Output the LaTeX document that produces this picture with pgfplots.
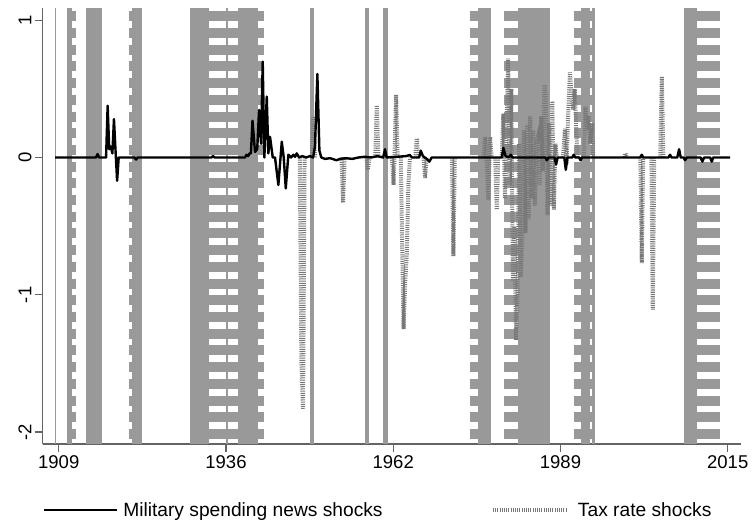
\documentclass[border=0pt]{standalone}
\usepackage{pgfplots}
\pgfplotsset{compat=1.18}
\usepackage{fontspec}
\setmainfont{Liberation Sans}

\definecolor{bandgray}{RGB}{153,153,153}
\definecolor{axisgray}{RGB}{100,100,100}
\definecolor{taxgray}{RGB}{120,120,120}

% solid shaded period: start, end (years)
\newcommand{\sband}[2]{\addplot[fill=bandgray, draw=none, forget plot]
  coordinates {(#1,-2.087) (#1,1.089) (#2,1.089) (#2,-2.087)};}
% striped shaded period: centre, width (years); 6.3115pt per year
\newcommand{\dband}[2]{\addplot[draw=bandgray, line width=#2*6.3115pt,
  dash pattern=on 10pt off 6.7pt, dash phase=13.3pt, forget plot]
  coordinates {(#1,1.089) (#1,-2.087)};}

\begin{document}
\begin{tikzpicture}
\begin{axis}[
  name=ax,
  width=698.3pt, height=436pt, scale only axis,
  xmin=1906.46, xmax=2017.1,
  ymin=-2.087, ymax=1.089,
  axis lines*=left,
  axis line style={-, draw=axisgray, line width=1.3pt},
  xtick={1909,1935.5,1962,1988.5,2015},
  xticklabels={1909,1936,1962,1989,2015},
  ytick={-2,-1,0,1},
  yticklabels={-2,-1,0,1},
  tick align=outside,
  major tick length=7.7pt,
  tick style={draw=axisgray, line width=1.3pt},
  ticklabel style={font=\fontsize{18.5}{22}\selectfont},
  yticklabel style={rotate=90, anchor=south},
  unbounded coords=jump,
  legend columns=2,
  legend cell align=left,
  legend image code/.code={\draw[#1] (0pt,0pt) -- (73pt,0pt);},
  legend style={draw=none, fill=none, inner sep=0pt,
    at={(0,-0.152)}, anchor=west,
    nodes={inner sep=0pt},
    font=\fontsize{19.2}{22}\selectfont,
    /tikz/every odd column/.append style={column sep=5pt},
    /tikz/every even column/.append style={column sep=0pt}},
]

% striped periods
\dband{1911.025}{1.33}
\dband{1921.17}{1.96}
\dband{1935.11}{4.50}
\dband{1941.055}{1.05}
\dband{1974.89}{1.42}
\dband{1980.755}{2.29}
\dband{1992.335}{3.29}
\dband{2011.89}{3.78}

% solid periods
\sband{1908.35}{1908.55}
\sband{1910.36}{1911.11}
\sband{1913.28}{1915.91}
\sband{1920.61}{1922.15}
\sband{1929.80}{1932.86}
\sband{1935.51}{1935.87}
\sband{1937.36}{1940.53}
\sband{1948.82}{1949.45}
\sband{1957.53}{1958.22}
\sband{1960.34}{1961.23}
\sband{1975.49}{1977.50}
\sband{1981.82}{1986.87}
\sband{1991.80}{1993.23}
\sband{1993.45}{1993.98}
\sband{2008.13}{2010.09}

\addlegendimage{black, line width=2.4pt}
\addlegendentry{\makebox[367.7pt][l]{Military spending news shocks}}
\addlegendimage{draw=taxgray, line width=4pt, dash pattern=on 1pt off 1.2pt}
\addlegendentry{\hspace{5pt}Tax rate shocks}

% tax rate shocks
\addplot[draw=taxgray, line width=4pt, dash pattern=on 1pt off 1.2pt, forget plot] coordinates {
(1947.2,0) (1947.45,-1.5) (1947.71,-1.83) (1947.95,0) (1948,nan)
(1949.1,0) (1949.34,0.3) (1949.6,0) (1949.7,nan)
(1953.8,0) (1954.05,-0.33) (1954.3,0) (1954.4,nan)
(1957.75,0) (1958.0,-0.09) (1958.25,0) (1958.3,nan)
(1959.15,0) (1959.39,0.38) (1959.65,0) (1959.7,nan)
(1961.8,0) (1962.05,-0.2) (1962.2,0) (1962.45,0.455) (1962.7,0) (1962.8,nan)
(1963.2,0) (1963.4,-0.6) (1963.64,-1.25) (1963.9,-0.9) (1964.15,-0.7) (1964.4,-0.2) (1964.65,0) (1964.7,nan)
(1965.5,0) (1965.73,0.14) (1965.95,0) (1966,nan)
(1966.8,0) (1967.04,-0.15) (1967.3,0) (1967.4,nan)
(1971.3,0) (1971.53,-0.72) (1971.75,0) (1971.8,nan)
(1976.3,0) (1976.55,0.15) (1976.8,-0.05) (1977.07,-0.31) (1977.34,0.15) (1977.6,0) (1977.7,nan)
(1978.15,0) (1978.4,-0.38) (1978.65,0) (1978.7,nan)
(1979.2,0) (1979.45,0.32) (1979.7,-0.3) (1979.95,0.2) (1980.2,0.72) (1980.45,-0.2)
(1980.7,0.5) (1980.95,-0.9) (1981.2,-0.5) (1981.45,-1.33) (1981.7,-1.0) (1981.95,0.1)
(1982.2,-0.87) (1982.45,-0.6) (1982.7,0.2) (1982.95,-0.55) (1983.2,0.24) (1983.45,-0.45)
(1983.7,0.3) (1983.95,-0.3) (1984.2,0.2) (1984.45,-0.35) (1984.7,0.1) (1984.95,0.15)
(1985.2,-0.2) (1985.45,0.3) (1985.7,-0.1) (1985.95,0.53) (1986.2,0.45) (1986.45,-0.42)
(1986.7,0.25) (1986.95,-0.35) (1987.2,0.41) (1987.45,-0.38) (1987.7,0.1) (1987.95,0) (1988,nan)
(1988.9,0) (1989.2,0.21) (1989.45,-0.05) (1989.7,0.3) (1990.0,0.62) (1990.25,0.45)
(1990.5,0.35) (1990.75,0.5) (1991.0,0.2) (1991.2,0) (1991.3,nan)
(1992.2,0) (1992.45,0.37) (1992.7,0.2) (1992.95,0.3) (1993.2,0.1) (1993.5,0.25) (1993.7,0) (1993.8,nan)
(1998.6,0) (1998.8,0.03) (1999.0,0) (1999.1,nan)
(2001.15,0) (2001.38,-0.77) (2001.6,0) (2001.7,nan)
(2002.9,0) (2003.12,-1.11) (2003.35,0) (2003.4,nan)
(2004.3,0) (2004.55,0.59) (2004.8,0)
};

% military spending news shocks
\addplot[black, line width=2.4pt, line join=round, forget plot] coordinates {
(1908.41,0)
(1914.9,0) (1915.15,0.025) (1915.4,0)
(1916.5,0) (1916.75,0.377) (1917.0,0.06) (1917.25,0.08) (1917.5,0.03) (1917.75,0.28)
(1918.0,0.05) (1918.25,-0.17) (1918.5,0)
(1921.0,0) (1921.25,-0.015) (1921.5,0)
(1933.2,0) (1933.45,0.01) (1933.7,0)
(1938.5,0) (1938.75,0.02) (1939.0,0.01) (1939.25,0.03) (1939.45,0.03)
(1939.7,0.268) (1940.1,0.04) (1940.45,0.06) (1940.74,0.346) (1941.06,0.1) (1941.32,0.698)
(1941.58,0.0) (1941.96,0.443) (1942.21,0.03) (1942.48,0.15) (1942.91,0.0) (1943.27,0.0)
(1943.8,-0.2) (1944.34,0.115) (1944.65,0.0) (1944.97,-0.225) (1945.38,0.02) (1945.81,0.0)
(1946.17,0.02) (1946.44,0.005) (1946.71,0.03) (1947.08,0) (1947.6,0.01) (1948.2,0)
(1948.8,0.01) (1949.3,0.0) (1949.6,0.08) (1949.98,0.608) (1950.3,0.05) (1950.6,0)
(1951.2,-0.01) (1952.0,-0.005) (1953.0,-0.02) (1953.6,-0.01) (1954.5,-0.005) (1955.5,-0.01)
(1956.5,0.0) (1957.5,0.005) (1958.5,0) (1959.5,0.01) (1960.4,0.0) (1960.7,0.06) (1960.95,0.0)
(1962.5,0.005) (1964.0,0.01) (1964.6,0.018) (1965.0,0.0) (1966.1,0.0) (1966.36,0.05)
(1966.7,0.01) (1967.3,-0.01) (1967.72,-0.03) (1968.1,0)
(1979.2,0) (1979.45,0.07) (1979.8,0.01) (1980.3,0.0) (1980.62,0.02) (1980.9,0)
(1986.1,0) (1986.33,-0.02) (1986.6,0) (1987.55,0) (1987.8,-0.05) (1988.05,0)
(1989.1,0) (1989.34,-0.09) (1989.6,0) (1990.35,0) (1990.6,0.02) (1990.85,0)
(1991.45,0) (1991.68,-0.02) (1991.9,0) (2001.1,0) (2001.38,0.02) (2001.6,0)
(2005.6,0) (2005.86,0.02) (2006.1,0) (2007.0,0) (2007.29,0.06) (2007.55,0)
(2008.0,0) (2008.24,-0.02) (2008.5,0) (2010.7,0) (2010.98,-0.03) (2011.25,0)
(2012.2,0) (2012.47,-0.03) (2012.7,0) (2015.37,0)
};

\end{axis}
\path ([shift={(-42.7pt,-79pt)}]ax.south west) rectangle ([shift={(710.3pt,444pt)}]ax.south west);
\end{tikzpicture}
\end{document}
